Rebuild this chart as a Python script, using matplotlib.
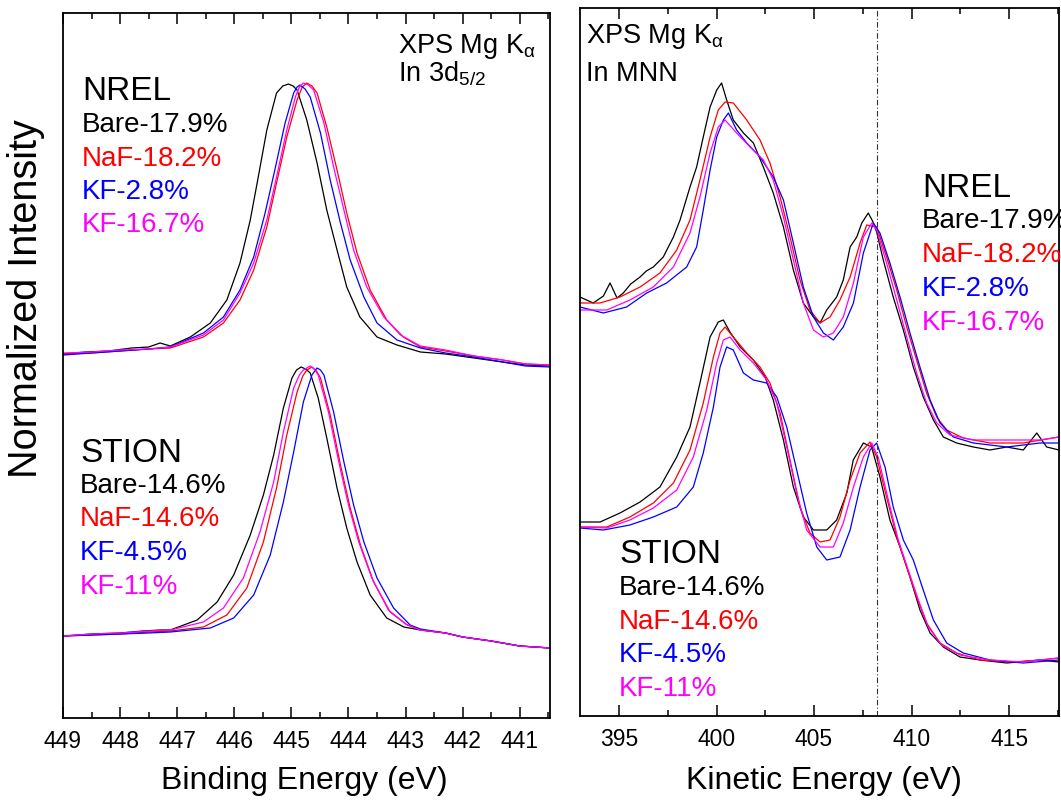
import numpy as np
import matplotlib.pyplot as plt

plt.rcParams['font.family'] = ['Liberation Sans', 'DejaVu Sans']
plt.rcParams['mathtext.default'] = 'regular'

# ---- In 3d5/2 (binding energy), NREL set (upper) ----
be_nrel_bare = [449.0, 448.6, 448.2, 447.8, 447.5, 447.3, 447.12, 446.77, 446.42, 446.13, 445.90, 445.72,
                445.58, 445.43, 445.26, 445.15, 445.05, 444.97, 444.90, 444.73, 444.55, 444.38, 444.20,
                444.03, 443.80, 443.50, 443.15, 442.74, 442.3, 441.8, 441.3, 440.9, 440.47]
i3d_nrel_bare = [364, 366, 367, 370, 371, 375, 372, 381, 395, 418, 455, 498,
                 541, 588, 625, 632, 634, 632, 628, 598, 555, 508, 468,
                 431, 401, 381, 373, 366, 364, 360, 356, 353, 352]

be_nrel_naf = [449.0, 448.5, 448.0, 447.5, 447.12, 446.54, 446.19, 445.90, 445.66, 445.43, 445.26, 445.08,
               444.90, 444.81, 444.73, 444.64, 444.55, 444.38, 444.20, 444.03, 443.85, 443.62, 443.33,
               443.04, 442.74, 442.3, 441.8, 441.3, 440.9, 440.47]
i3d_nrel_naf = [364, 365, 367, 369, 370, 381, 395, 418, 448, 491, 535, 581,
                618, 631, 635, 632, 625, 591, 548, 505, 465, 428, 398,
                381, 371, 367, 362, 358, 354, 353]

be_nrel_kf28 = [449.0, 448.5, 448.0, 447.5, 447.12, 446.54, 446.19, 445.90, 445.66, 445.46, 445.29, 445.11,
                444.96, 444.90, 444.85, 444.76, 444.67, 444.49, 444.32, 444.14, 443.97, 443.73, 443.50,
                443.15, 442.74, 442.3, 441.8, 441.3, 440.9, 440.47]
i3d_nrel_kf28 = [363, 365, 367, 369, 371, 385, 401, 428, 461, 505, 548, 595,
                 625, 631, 633, 629, 621, 585, 538, 495, 458, 421, 395,
                 378, 370, 365, 361, 356, 352, 351]

be_nrel_kf167 = [449.0, 448.5, 448.0, 447.5, 447.12, 446.54, 446.19, 445.90, 445.66, 445.43, 445.26, 445.08,
                 444.93, 444.86, 444.79, 444.70, 444.61, 444.43, 444.26, 444.08, 443.91, 443.68, 443.38,
                 443.09, 442.74, 442.3, 441.8, 441.3, 440.9, 440.47]
i3d_nrel_kf167 = [365, 366, 368, 369, 371, 383, 398, 425, 455, 498, 541, 588,
                  621, 631, 635, 633, 628, 595, 551, 508, 468, 431, 401,
                  383, 372, 368, 362, 358, 354, 353]

# ---- In 3d5/2, STION set (lower) ----
be_stion_bare = [449.0, 448.5, 448.0, 447.6, 447.3, 447.12, 446.65, 446.30, 446.01, 445.72, 445.49, 445.31,
                 445.14, 444.99, 444.91, 444.83, 444.75, 444.67, 444.53, 444.38, 444.20, 444.03, 443.85,
                 443.62, 443.33, 443.03, 442.74, 442.3, 442.0, 441.5, 441.0, 440.47]
i3d_stion_bare = [82, 84, 85, 87, 88, 88, 98, 116, 143, 183, 223, 263,
                  310, 340, 348, 351, 349, 345, 320, 280, 230, 190, 156,
                  123, 100, 91, 88, 85, 81, 77, 72, 70]

be_stion_naf = [449.0, 448.5, 448.0, 447.5, 447.12, 446.54, 446.13, 445.78, 445.49, 445.26, 445.08, 444.90,
                444.80, 444.73, 444.64, 444.56, 444.49, 444.32, 444.14, 443.97, 443.79, 443.56, 443.27,
                442.97, 442.74, 442.3, 442.0, 441.5, 441.0, 440.47]
i3d_stion_naf = [82, 83, 84, 86, 87, 91, 103, 130, 176, 230, 283, 326,
                 342, 348, 351, 347, 340, 303, 253, 210, 173, 136, 106,
                 93, 88, 85, 81, 77, 72, 70]

be_stion_kf45 = [449.0, 448.5, 448.0, 447.5, 447.12, 446.42, 446.01, 445.66, 445.37, 445.14, 444.96, 444.79,
                 444.64, 444.55, 444.49, 444.43, 444.26, 444.08, 443.91, 443.73, 443.50, 443.21, 442.92,
                 442.74, 442.3, 442.0, 441.5, 441.0, 440.47]
i3d_stion_kf45 = [82, 83, 84, 85, 86, 90, 100, 123, 163, 216, 266, 316,
                  343, 350, 348, 343, 306, 256, 213, 176, 140, 110, 93,
                  89, 85, 81, 77, 72, 70]

be_stion_kf11 = [449.0, 448.5, 448.0, 447.5, 447.12, 446.54, 446.19, 445.84, 445.55, 445.31, 445.14, 444.96,
                 444.86, 444.79, 444.67, 444.60, 444.53, 444.35, 444.17, 444.00, 443.82, 443.59, 443.30,
                 443.00, 442.74, 442.3, 442.0, 441.5, 441.0, 440.47]
i3d_stion_kf11 = [82, 84, 85, 87, 88, 96, 110, 140, 186, 236, 286, 330,
                  343, 348, 352, 349, 343, 306, 256, 213, 176, 140, 108,
                  94, 88, 85, 81, 77, 72, 70]

# ---- In MNN (kinetic energy), NREL set (upper) ----
ke_nrel_bare = [393.0, 393.68, 394.2, 394.54, 394.9, 395.22, 395.6, 396.08, 396.4, 396.76, 397.27, 397.79,
                398.13, 398.64, 398.98, 399.32, 399.67, 400.01, 400.26, 400.52, 400.86, 401.38, 401.89,
                402.40, 402.91, 403.43, 403.94, 404.45, 404.97, 405.31, 405.65, 406.16, 406.50, 406.85,
                407.19, 407.45, 407.78, 408.0, 408.21, 408.55, 409.06, 409.58, 410.09, 410.60, 411.12,
                411.63, 412.31, 413.17, 414.02, 414.88, 415.73, 416.42, 416.93, 417.56]
imnn_nrel_bare = [419, 413, 420, 433, 418, 423, 432, 439, 445, 449, 459, 479,
                  496, 529, 549, 579, 609, 626, 633, 616, 596, 583, 573,
                  549, 523, 489, 446, 413, 399, 393, 406, 419, 436, 469,
                  479, 493, 503, 495, 484, 456, 419, 386, 349, 319, 296,
                  279, 273, 269, 266, 269, 266, 283, 269, 266]

ke_nrel_naf = [393.0, 394.03, 395.05, 396.08, 397.10, 397.96, 398.64, 399.15, 399.67, 400.09, 400.44, 400.86,
               401.55, 402.23, 402.74, 403.26, 403.77, 404.28, 404.79, 405.31, 405.82, 406.33, 406.85,
               407.36, 407.70, 408.21, 408.72, 409.24, 409.75, 410.26, 410.77, 411.29, 411.80, 412.65,
               414.02, 415.73, 417.56]
imnn_nrel_naf = [413, 413, 419, 429, 443, 466, 496, 536, 579, 606, 614, 613,
                 596, 576, 553, 519, 479, 436, 406, 393, 399, 416, 439,
                 473, 491, 489, 459, 426, 389, 356, 323, 299, 286, 278,
                 273, 273, 279]

ke_nrel_kf28 = [393.0, 394.20, 395.39, 396.42, 397.44, 398.47, 398.98, 399.32, 399.67, 400.01, 400.35, 400.61,
                401.03, 401.55, 402.23, 402.91, 403.43, 403.94, 404.45, 404.97, 405.48, 405.99, 406.50,
                407.02, 407.53, 408.04, 408.38, 408.89, 409.41, 409.92, 410.43, 410.95, 411.46, 412.14,
                413.17, 414.88, 416.59, 417.56]
imnn_nrel_kf28 = [409, 403, 409, 423, 433, 449, 469, 506, 546, 579, 596, 603,
                  586, 573, 559, 539, 516, 473, 429, 399, 383, 376, 389,
                  413, 463, 493, 483, 453, 419, 383, 349, 316, 293, 279,
                  273, 269, 273, 273]

ke_nrel_kf167 = [393.0, 394.37, 395.56, 396.76, 397.79, 398.64, 399.15, 399.67, 400.09, 400.44, 401.03, 401.72,
                 402.40, 402.91, 403.43, 403.94, 404.45, 404.97, 405.48, 405.99, 406.50, 407.02, 407.53,
                 407.96, 408.21, 408.72, 409.24, 409.75, 410.26, 410.77, 411.29, 411.97, 413.17, 414.88,
                 416.59, 417.56]
imnn_nrel_kf167 = [406, 406, 416, 429, 449, 483, 519, 563, 589, 596, 583, 569,
                   556, 536, 499, 456, 413, 386, 379, 383, 399, 433, 479,
                   493, 486, 453, 416, 379, 343, 313, 293, 281, 276, 276,
                   276, 279]

# ---- In MNN, STION set (lower) ----
ke_stion_bare = [393.0, 394.03, 395.05, 396.08, 397.10, 397.96, 398.64, 399.15, 399.67, 400.09, 400.35, 400.69,
                 401.21, 401.89, 402.49, 402.91, 403.43, 403.94, 404.45, 404.97, 405.65, 406.16, 406.68,
                 407.01, 407.53, 407.95, 408.38, 408.89, 409.41, 409.92, 410.43, 410.95, 411.63, 412.48,
                 413.51, 414.88, 416.59, 417.56]
imnn_stion_bare = [194, 194, 203, 214, 229, 259, 289, 333, 379, 394, 396, 384,
                   369, 356, 339, 316, 276, 229, 199, 186, 186, 196, 223,
                   256, 273, 269, 239, 196, 169, 139, 106, 83, 69, 59,
                   56, 53, 56, 54]

ke_stion_naf = [393.0, 394.37, 395.56, 396.76, 397.79, 398.64, 399.32, 399.84, 400.18, 400.44, 400.86, 401.55,
                402.23, 402.74, 403.26, 403.77, 404.28, 404.79, 405.31, 405.82, 406.33, 406.85, 407.36,
                407.87, 408.21, 408.72, 409.24, 409.75, 410.26, 410.77, 411.46, 412.31, 413.51, 415.22,
                416.59, 417.56]
imnn_stion_naf = [189, 189, 199, 213, 233, 266, 313, 359, 383, 389, 379, 363,
                  349, 333, 303, 256, 209, 183, 174, 176, 199, 236, 263,
                  274, 259, 219, 179, 149, 119, 93, 73, 63, 56, 54,
                  56, 58]

ke_stion_kf45 = [393.0, 394.20, 395.56, 396.76, 397.96, 398.81, 399.32, 399.84, 400.18, 400.52, 400.86, 401.38,
                 401.89, 402.57, 403.09, 403.60, 404.11, 404.62, 405.14, 405.65, 406.33, 406.85, 407.36,
                 407.87, 408.21, 408.64, 409.06, 409.58, 410.09, 410.60, 411.12, 411.80, 412.65, 414.02,
                 415.73, 417.56]
imnn_stion_kf45 = [188, 186, 191, 199, 209, 229, 263, 309, 349, 369, 366, 343,
                   336, 333, 319, 289, 246, 203, 169, 156, 159, 186, 229,
                   266, 273, 249, 209, 176, 156, 126, 96, 73, 63, 56,
                   53, 56]

ke_stion_kf11 = [393.0, 394.37, 395.56, 396.76, 397.96, 398.81, 399.50, 400.01, 400.35, 400.69, 401.21, 401.89,
                 402.57, 403.09, 403.60, 404.11, 404.62, 405.31, 405.99, 406.50, 407.02, 407.53, 407.96,
                 408.30, 408.81, 409.32, 409.83, 410.35, 410.86, 411.54, 412.48, 414.02, 415.73, 417.56]
imnn_stion_kf11 = [189, 188, 196, 208, 226, 259, 306, 353, 376, 379, 366, 353,
                   336, 313, 269, 223, 186, 169, 169, 193, 229, 259, 273,
                   258, 216, 176, 146, 116, 89, 71, 61, 56, 54, 58]

nrel_labels = ["Bare-17.9%", "NaF-18.2%", "KF-2.8%", "KF-16.7%"]
stion_labels = ["Bare-14.6%", "NaF-14.6%", "KF-4.5%", "KF-11%"]
colors = ["black", "#ff0000", "#0000ff", "#ff00ff"]


def fx(x):
    return x / 1061


def fy(y):
    return 1 - y / 801


fig = plt.figure(figsize=(10.61, 8.01), dpi=100)
ax1 = fig.add_axes([fx(63), fy(718), 487 / 1061, 705 / 801])
ax2 = fig.add_axes([fx(580), fy(716), 479 / 1061, 708 / 801])

left_x = [be_nrel_bare, be_nrel_naf, be_nrel_kf28, be_nrel_kf167,
          be_stion_bare, be_stion_naf, be_stion_kf45, be_stion_kf11]
left_y = [i3d_nrel_bare, i3d_nrel_naf, i3d_nrel_kf28, i3d_nrel_kf167,
          i3d_stion_bare, i3d_stion_naf, i3d_stion_kf45, i3d_stion_kf11]
for i in range(8):
    ax1.plot(left_x[i], left_y[i], color=colors[i % 4], lw=0.9)

right_x = [ke_nrel_bare, ke_nrel_naf, ke_nrel_kf28, ke_nrel_kf167,
           ke_stion_bare, ke_stion_naf, ke_stion_kf45, ke_stion_kf11]
right_y = [imnn_nrel_bare, imnn_nrel_naf, imnn_nrel_kf28, imnn_nrel_kf167,
           imnn_stion_bare, imnn_stion_naf, imnn_stion_kf45, imnn_stion_kf11]
for i in range(8):
    ax2.plot(right_x[i], right_y[i], color=colors[i % 4], lw=0.9)

ax2.axvline(408.21, color="#333333", lw=0.8, linestyle=(0, (5, 2, 1, 2)))

ax1.set_xlim(449, 440.47)
ax1.set_ylim(0, 705)
ax1.set_xticks(np.arange(441, 450))
ax1.set_xticks(np.arange(440.5, 449.5, 1.0), minor=True)
ax2.set_xlim(393, 417.56)
ax2.set_ylim(0, 708)
ax2.set_xticks([395, 400, 405, 410, 415])
ax2.set_xticks([397.5, 402.5, 407.5, 412.5, 417.5], minor=True)

for ax in (ax1, ax2):
    ax.set_yticks([])
    ax.tick_params(axis="x", which="major", direction="in", top=True, length=8, width=1.1,
                   labelsize=16.5, pad=9)
    ax.tick_params(axis="x", which="minor", direction="in", top=True, length=4.5, width=1.1)
    for s in ax.spines.values():
        s.set_linewidth(1.3)

# axis labels
fig.text(fx(304), fy(781), "Binding Energy (eV)", fontsize=23, ha="center", va="center")
fig.text(fx(824), fy(781), "Kinetic Energy (eV)", fontsize=23, ha="center", va="center")
fig.text(fx(26), fy(299), "Normalized Intensity", fontsize=28.5, rotation=90, ha="center", va="center")

# panel titles
fig.text(fx(398), fy(53), "XPS Mg K$_α$", fontsize=19.5, va="baseline")
fig.text(fx(398), fy(82), "In 3d$_{5/2}$", fontsize=19.5, va="baseline")
fig.text(fx(586), fy(43), "XPS Mg K$_α$", fontsize=19.5, va="baseline")
fig.text(fx(586), fy(81), "In MNN", fontsize=19.5, va="baseline")

# sample labels
fig.text(fx(82), fy(100), "NREL", fontsize=24, va="baseline")
for k, lab in enumerate(nrel_labels):
    fig.text(fx(82), fy(132 + 33.5 * k), lab, fontsize=20, color=colors[k], va="baseline")
fig.text(fx(80), fy(462), "STION", fontsize=24, va="baseline")
for k, lab in enumerate(stion_labels):
    fig.text(fx(80), fy(493 + 33.5 * k), lab, fontsize=20, color=colors[k], va="baseline")

fig.text(fx(922), fy(197), "NREL", fontsize=24, va="baseline")
for k, lab in enumerate(nrel_labels):
    fig.text(fx(922), fy(228 + 34 * k), lab, fontsize=20, color=colors[k], va="baseline")
fig.text(fx(619), fy(563), "STION", fontsize=24, va="baseline")
for k, lab in enumerate(stion_labels):
    fig.text(fx(619), fy(595 + 33.7 * k), lab, fontsize=20, color=colors[k], va="baseline")

fig.savefig("out.png", dpi=100)
